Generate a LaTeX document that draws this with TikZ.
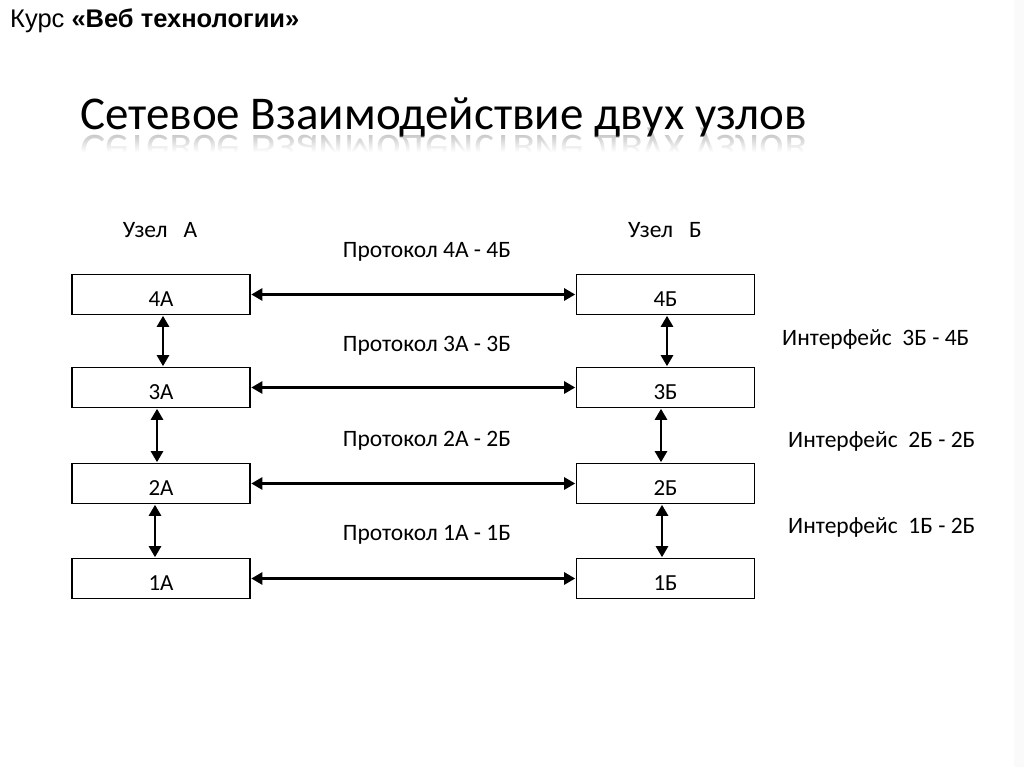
\documentclass[tikz,border=0pt]{standalone}
\usepackage{fontspec}
\setmainfont{Carlito}
\newfontfamily\arialf{Liberation Sans}
\usetikzlibrary{arrows.meta,fadings}
\tikzset{
  layer/.style={draw=black, line width=1.6pt, minimum width=178pt, minimum height=40pt, inner sep=0pt, text height=24pt, text depth=0pt, font=\fontsize{23}{25}\selectfont},
  lbl/.style={inner sep=0pt, font=\fontsize{23.5}{26}\selectfont},
  dbl/.style={line width=2.6pt, {Triangle[length=11pt,width=12pt]}-{Triangle[length=11pt,width=12pt]}, shorten <=0.5pt, shorten >=0.5pt}
}
\begin{document}
\begin{tikzpicture}[x=1pt,y=-1pt]
\useasboundingbox (0,0) rectangle (1024,767);
\fill[white] (0,0) rectangle (1024,767);
\fill[black!2] (1014,0) rectangle (1024,767);
% header
\node[anchor=base west, inner sep=0pt, font=\arialf\fontsize{25.5}{28}\selectfont] (hdr) at (10,28) {Курс \textbf{«Веб технологии»}};
% title
\node[anchor=base west, inner sep=0pt, font=\fontsize{47}{52}\selectfont] (ttl) at (80,130) {Сетевое Взаимодействие двух узлов};
\node[anchor=base west, inner sep=0pt, font=\fontsize{47}{52}\selectfont, transform shape, yscale=-1, text=black, opacity=0.22] (ttlr) at (80,136) {Сетевое Взаимодействие двух узлов};
\fill[white, path fading=north] (70,134) rectangle (820,152);
\fill[white] (70,152) rectangle (820,175);
% columns
\node[lbl] (na) at (160,230) {Узел\ \ \ А};
\node[lbl] (nb) at (665,230) {Узел\ \ \ Б};
% boxes
\node[layer] (a4) at (161,294.5) {4А};
\node[layer] (a3) at (161,387.5) {3А};
\node[layer] (a2) at (161,483.5) {2А};
\node[layer] (a1) at (161,578.5) {1А};
\node[layer] (b4) at (665.5,294.5) {4Б};
\node[layer] (b3) at (665.5,387.5) {3Б};
\node[layer] (b2) at (665.5,483.5) {2Б};
\node[layer] (b1) at (665.5,578.5) {1Б};
% protocol arrows
\draw[dbl] (a4) -- (b4);
\draw[dbl] (a3) -- (b3);
\draw[dbl] (a2) -- (b2);
\draw[dbl] (a1) -- (b1);
% interface arrows
\draw[dbl] ([xshift=2pt]a4.south) -- ([xshift=2pt]a3.north);
\draw[dbl] ([xshift=-4pt]a3.south) -- ([xshift=-4pt]a2.north);
\draw[dbl] ([xshift=-6pt]a2.south) -- ([xshift=-6pt]a1.north);
\draw[dbl] ([xshift=1.5pt]b4.south) -- ([xshift=1.5pt]b3.north);
\draw[dbl] ([xshift=-4.5pt]b3.south) -- ([xshift=-4.5pt]b2.north);
\draw[dbl] ([xshift=-3.5pt]b2.south) -- ([xshift=-3.5pt]b1.north);
% protocol labels
\node[lbl] (p4) at (427,252) {Протокол 4А - 4Б};
\node[lbl] (p3) at (427,346) {Протокол 3А - 3Б};
\node[lbl] (p2) at (427,441) {Протокол 2А - 2Б};
\node[lbl] (p1) at (427,535) {Протокол 1А - 1Б};
% interface labels
\node[lbl, anchor=west] (i3) at (782,339) {Интерфейс\ \ 3Б - 4Б};
\node[lbl, anchor=west] (i2) at (788,441) {Интерфейс\ \ 2Б - 2Б};
\node[lbl, anchor=west] (i1) at (788,527) {Интерфейс\ \ 1Б - 2Б};
\end{tikzpicture}
\end{document}
